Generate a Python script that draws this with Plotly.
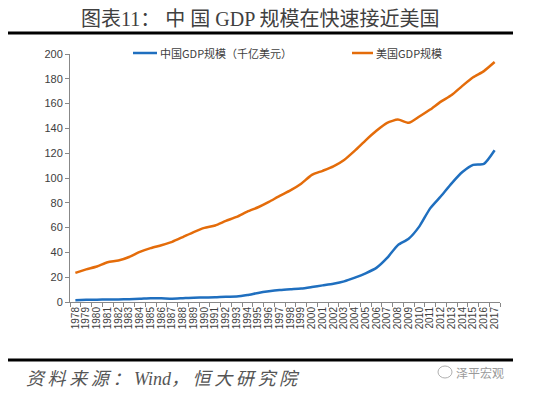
import plotly.graph_objects as go

years = list(range(1978, 2018))
china_gdp = [1.5, 1.8, 1.9, 1.95, 2.05, 2.3, 2.6, 3.1, 3.0, 2.7,
             3.1, 3.5, 3.6, 3.8, 4.3, 4.4, 5.6, 7.3, 8.6, 9.6,
             10.3, 10.9, 12.1, 13.4, 14.7, 16.6, 19.6, 23.1, 27.5, 35.5,
             45.9, 51.0, 61.0, 75.5, 85.3, 95.7, 104.8, 110.6, 111.4, 122.4]
us_gdp = [23.5, 26.3, 28.6, 32.1, 33.4, 36.3, 40.4, 43.4, 45.8, 48.5,
          52.4, 56.4, 59.8, 61.7, 65.4, 68.6, 72.9, 76.4, 80.7, 85.6,
          90.0, 95.4, 102.5, 105.8, 109.4, 114.6, 122.1, 130.4, 138.1, 144.5,
          147.1, 144.5, 149.6, 155.2, 161.6, 166.9, 174.3, 181.2, 186.2, 193.5]
tick_labels = [str(y) for y in years]
y_ticks = list(range(0, 201, 20))
series_names = ["中国GDP规模（千亿美元）", "美国GDP规模"]
series_colors = ["#1f6fbf", "#e46c0a"]
title_text = "图表11： 中 国 GDP 规模在快速接近美国"
source_text = "资\u2009料\u2009来\u2009源\u2009：\u2009Wind，\u2009恒\u2009大\u2009研\u2009究\u2009院"

# page body has an 8px margin, so the figure is 8px smaller and all
# reference pixel positions map through these helpers
def px(x):
    return (x - 70) / 430

def py(y):
    return 1 - (y - 54) / 248

fig = go.Figure()
for name, vals, col in zip(series_names, [china_gdp, us_gdp], series_colors):
    fig.add_trace(go.Scatter(x=years, y=vals, mode="lines", name=name,
                             line=dict(color=col, width=2.5, shape="spline", smoothing=0.6)))

fig.update_layout(
    width=542, height=385,
    margin=dict(l=62, r=50, t=46, b=91),
    plot_bgcolor="white", paper_bgcolor="white",
    font=dict(family="Noto Sans CJK SC, sans-serif", color="#404040"),
    showlegend=False,
    xaxis=dict(range=[1977.5, 2017.5], tickmode="array", tickvals=years, ticktext=tick_labels,
               tickangle=-90, tickfont=dict(family="Liberation Sans, Arial", size=10, color="#404040"),
               showgrid=False, zeroline=False, showline=True, linecolor="#888888", linewidth=1,
               ticks="", minor=dict(tickvals=[y + 0.5 for y in years[:-1]] + [1977.5, 2017.5],
                                    ticks="outside", ticklen=4, tickcolor="#888888")),
    yaxis=dict(range=[0, 200], tickmode="array", tickvals=y_ticks,
               tickfont=dict(family="Liberation Sans, Arial", size=11, color="#404040"),
               showgrid=False, zeroline=False, showline=True, linecolor="#888888", linewidth=1,
               ticks="outside", ticklen=4, tickcolor="#888888"),
)

# manual legend
legend_pos = [(133, 157), (352, 373)]
for (x0, x1), name, col in zip(legend_pos, series_names, series_colors):
    fig.add_shape(type="line", xref="paper", yref="paper", x0=px(x0), x1=px(x1),
                  y0=py(53), y1=py(53), line=dict(color=col, width=2.5))
    fig.add_annotation(text=name, xref="paper", yref="paper", x=px(x1 + 1), y=py(53),
                       xanchor="left", yanchor="middle", showarrow=False,
                       font=dict(family="Noto Sans CJK SC", size=11, color="#404040"))

# title
fig.add_annotation(text=title_text, xref="paper", yref="paper",
                   x=px(260), y=py(19), xanchor="center", yanchor="middle",
                   showarrow=False, font=dict(family="Liberation Serif, Noto Sans CJK SC", size=20, color="#404040"))
# rules
fig.add_shape(type="line", xref="paper", yref="paper", x0=px(8), x1=px(513),
              y0=py(33), y1=py(33), line=dict(color="black", width=3))
fig.add_shape(type="line", xref="paper", yref="paper", x0=px(8), x1=px(513),
              y0=py(360), y1=py(360), line=dict(color="black", width=3))
# footer
fig.add_annotation(text="<i>" + source_text + "</i>", xref="paper", yref="paper",
                   x=px(24), y=py(379), xanchor="left", yanchor="middle",
                   showarrow=False, font=dict(family="Liberation Serif, Noto Sans CJK SC", size=18, color="#555555"))
fig.add_annotation(text="泽平宏观", xref="paper", yref="paper",
                   x=px(506), y=py(372), xanchor="right", yanchor="middle",
                   showarrow=False, font=dict(family="Noto Sans CJK SC", size=12, color="#9a9a9a"))
fig.add_shape(type="circle", xref="paper", yref="paper",
              x0=px(438), x1=px(452), y0=py(378), y1=py(366),
              line=dict(color="#b0b0b0", width=1))

fig.write_html("out.html")
